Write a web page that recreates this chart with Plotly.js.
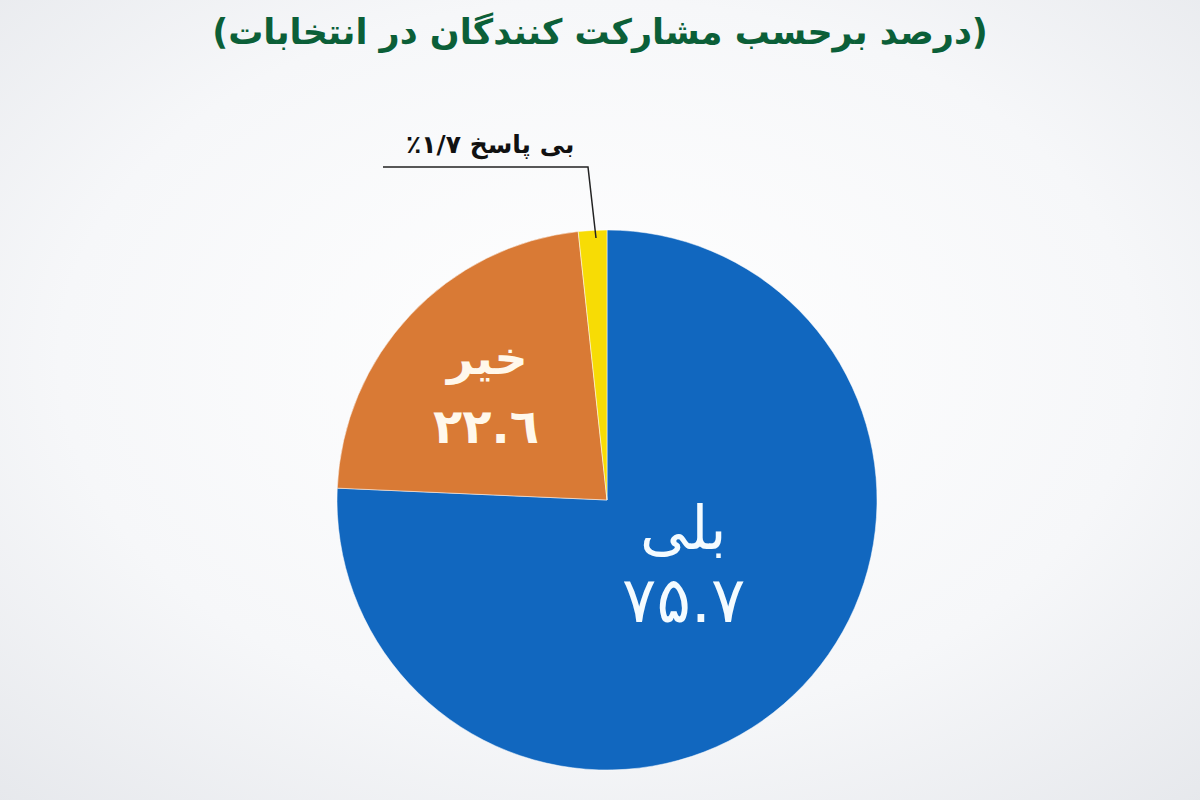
<!DOCTYPE html>
<html>
<head>
<meta charset="utf-8">
<script src="https://cdn.plot.ly/plotly-3.0.1.min.js"></script>
<style>html,body{margin:0;padding:0;background:#f3f4f6;}#chart{width:1200px;height:800px;}</style>
</head>
<body>
<div id="chart"></div>
<script>
// Data
const titleText = '(درصد برحسب مشارکت کنندگان در انتخابات)';
const categories = ['بلی', 'خیر', 'بی پاسخ'];
const values = [75.7, 22.6, 1.7];
const valueLabels = ['۷۵.۷', '۲۲.٦', '۱/۷٪'];
const colors = ['#1167bf', '#d97a35', '#f7dc05'];

const outsideLabel = '\u200F' + categories[2] + ' ' + valueLabels[2] + '\u200F';

const bgSvg = '<svg xmlns="http://www.w3.org/2000/svg" width="1200" height="800">' +
  '<defs><radialGradient id="g" cx="50%" cy="45%" r="75%">' +
  '<stop offset="0%" stop-color="#ffffff"/><stop offset="60%" stop-color="#f6f7f9"/><stop offset="100%" stop-color="#e6e8ec"/>' +
  '</radialGradient></defs><rect width="1200" height="800" fill="url(#g)"/></svg>';

const trace = {
  type: 'pie',
  labels: categories,
  values: values,
  textinfo: 'none',
  hoverinfo: 'label+value',
  sort: false,
  direction: 'clockwise',
  rotation: 0,
  marker: {colors: colors, line: {color: 'rgba(255,255,255,0.5)', width: 1}},
  domain: {x: [337/1200, 877/1200], y: [30/800, 570/800]},
  showlegend: false
};

function lbl(text, px, py, size, weight, color) {
  return {
    text: text, xref: 'paper', yref: 'paper',
    x: px/1200, y: 1 - py/800, xanchor: 'center', yanchor: 'middle',
    showarrow: false,
    font: {family: 'DejaVu Sans', size: size, color: color, weight: weight}
  };
}

const layout = {
  width: 1200, height: 800,
  margin: {l: 0, r: 0, t: 0, b: 0},
  paper_bgcolor: '#f3f4f6',
  title: {
    text: titleText,
    x: 0.5, xanchor: 'center',
    y: 1 - 32/800, yanchor: 'middle',
    font: {family: 'DejaVu Sans', size: 35, color: '#0b5f38', weight: 'bold'}
  },
  images: [{
    source: 'data:image/svg+xml;base64,' + btoa(bgSvg),
    xref: 'paper', yref: 'paper', x: 0, y: 1, sizex: 1, sizey: 1,
    xanchor: 'left', yanchor: 'top', sizing: 'stretch', layer: 'below'
  }],
  annotations: [
    lbl(categories[0], 683, 528, 60, 'normal', '#f4fbff'),
    lbl(valueLabels[0], 683, 600, 64, 'normal', '#f4fbff'),
    lbl(categories[1], 486, 358, 46, 'bold', '#fff8ec'),
    lbl(valueLabels[1], 486, 426, 48, 'bold', '#fff8ec'),
    lbl(outsideLabel, 490, 145, 25, 'bold', '#111111')
  ],
  shapes: [{
    type: 'path', xref: 'paper', yref: 'paper',
    path: 'M ' + (596/1200) + ',' + (1 - 238/800) + ' L ' + (588/1200) + ',' + (1 - 167/800) + ' L ' + (383/1200) + ',' + (1 - 167/800),
    line: {color: '#222222', width: 1.5}
  }]
};

Plotly.newPlot('chart', [trace], layout, {displayModeBar: false, staticPlot: true});
</script>
</body>
</html>
